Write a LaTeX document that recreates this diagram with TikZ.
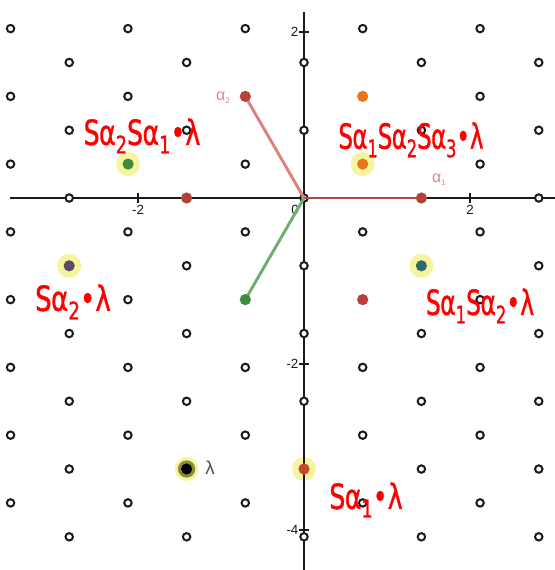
\documentclass[tikz,border=0pt]{standalone}
\usepackage{fontspec}
\setsansfont{Liberation Sans}
\newfontfamily\handfont[FakeBold=1.2]{DejaVu Sans}
\newcommand\hsub[1]{\raisebox{-0.45ex}{\fontsize{14}{14}\selectfont #1}}
\newcommand\hs[1]{S\kern-0.5ptα\hsub{#1}}
\newcommand\handtxt[2]{\scalebox{#1}[1.3]{#2}}
\definecolor{latblack}{HTML}{1A1A1A}
\definecolor{ptred}{HTML}{B5413A}
\definecolor{ptred2}{HTML}{C8452D}
\definecolor{ptgreen}{HTML}{3D8B3D}
\definecolor{ptorange}{HTML}{E8751A}
\definecolor{ptpurple}{HTML}{5A4A6E}
\definecolor{ptteal}{HTML}{2E6A6A}
\definecolor{glowc}{HTML}{F7F4A0}
\definecolor{olivec}{HTML}{8C8A3E}
\definecolor{aonec}{HTML}{B04A4A}
\definecolor{atwoc}{HTML}{D9837C}
\definecolor{greenline}{HTML}{6FAE6F}
\definecolor{alabel}{HTML}{D98A8A}
\begin{document}
\begin{tikzpicture}[x=0.75pt,y=-0.75pt,
  axis/.style={draw=latblack,line width=1pt},
  tick/.style={draw=latblack,line width=0.9pt},
  ticklab/.style={font=\sffamily\fontsize{10}{10}\selectfont,text=latblack,inner sep=1pt},
  lat/.style={circle,draw=latblack,fill=white,line width=1.5pt,minimum size=5.6pt,inner sep=0pt},
  dot/.style={circle,fill=#1,minimum size=8.4pt,inner sep=0pt},
  glow/.style={circle,fill=glowc,minimum size=18pt,inner sep=0pt},
  vec/.style={line width=2.2pt,draw=#1},
  hand/.style={text=red,font=\handfont\fontsize{20}{20}\selectfont,inner sep=0pt},
  glab/.style={font=\sffamily\fontsize{12}{12}\selectfont,inner sep=0pt}]
\useasboundingbox (0,0) rectangle (555,570);
% glows
\node[glow] (gG1) at (128.1,164.1) {};
\node[glow] (gO1) at (362.7,164.1) {};
\node[glow] (gP1) at (69.2,265.8) {};
\node[glow] (gT1) at (421.4,265.8) {};
\node[glow] (gR3) at (304,469) {};
\node[glow] (gL) at (186.6,469) {};
% axes
\coordinate (xl) at (10,198);
\coordinate (xr) at (555,198);
\coordinate (yt) at (304,12);
\coordinate (yb) at (304,570);
\draw[axis] (xl) -- (xr);
\draw[axis] (yt) -- (yb);
% ticks
\foreach \tx/\tl in {138/-2,470/2} {
  \coordinate (tA\tl) at (\tx,193);
  \coordinate (tB\tl) at (\tx,203);
  \draw[tick] (tA\tl) -- (tB\tl);
  \node[ticklab,anchor=north] (xlab\tl) at (\tx,204) {\tl};
}
\node[ticklab,anchor=north] (xlab0) at (295,204) {0};
\foreach \ty/\tl in {32/2,364/-2,530/-4} {
  \coordinate (uA\tl) at (299,\ty);
  \coordinate (uB\tl) at (309,\ty);
  \draw[tick] (uA\tl) -- (uB\tl);
  \node[ticklab,anchor=east] (ylab\tl) at (300,\ty) {\tl};
}
% lattice
\foreach \i in {-5,...,4} {
  \foreach \j in {-10,...,5} {
    \pgfmathtruncatemacro{\parity}{mod(\i+\j+20,2)}
    \ifnum\parity=0
      \node[lat] (p\i/\j) at ({304+58.69*\i},{198-33.88*\j}) {};
    \fi
  }
}
\coordinate (O) at (304,198);
% vectors
\coordinate (A1c) at (421.4,198);
\coordinate (A2c) at (245.3,96.4);
\coordinate (G2c) at (245.3,299.6);
\draw[vec=atwoc] (O) -- (A2c);
\draw[vec=aonec] (O) -- (A1c);
\draw[vec=greenline] (O) -- (G2c);
% coloured points
\node[dot=ptgreen] (G1) at (128.1,164.1) {};
\node[dot=ptorange] (O1) at (362.7,164.1) {};
\node[dot=ptorange] (O2) at (362.7,96.4) {};
\node[dot=ptred] (R1) at (186.6,198) {};
\node[dot=ptred] (A1) at (A1c) {};
\node[dot=ptred] (A2) at (A2c) {};
\node[dot=ptpurple] (P1) at (69.2,265.8) {};
\node[dot=ptteal] (T1) at (421.4,265.8) {};
\node[dot=ptred] (R2) at (362.7,299.6) {};
\node[dot=ptgreen] (G2) at (G2c) {};
\node[dot=ptred2] (R3) at (304,469) {};
\node[circle,fill=olivec,minimum size=13pt,inner sep=0pt] (Lr) at (186.6,469) {};
\node[dot=black] (L) at (186.6,469) {};
% small labels
\node[glab,text=alabel] (la2) at (223,98) {α\raisebox{-0.4ex}{\fontsize{6}{6}\selectfont 2}};
\node[glab,text=alabel] (la1) at (439,180) {α\raisebox{-0.4ex}{\fontsize{6}{6}\selectfont 1}};
\node[glab,text=black!70,font=\sffamily\fontsize{14}{14}\selectfont] (llam) at (210,468) {λ};
% handwritten labels
\node[hand] (t1) at (142,136) {\handtxt{0.95}{\hs2\hs1•λ}};
\node[hand] (t2) at (411,140) {\handtxt{0.86}{\hs1\hs2\hs3•λ}};
\node[hand] (t3) at (73,302) {\handtxt{0.98}{\hs2•λ}};
\node[hand] (t4) at (480,306) {\handtxt{0.88}{\hs1\hs2•λ}};
\node[hand] (t5) at (366,500) {\handtxt{0.95}{\hs1•λ}};
\end{tikzpicture}
\end{document}
